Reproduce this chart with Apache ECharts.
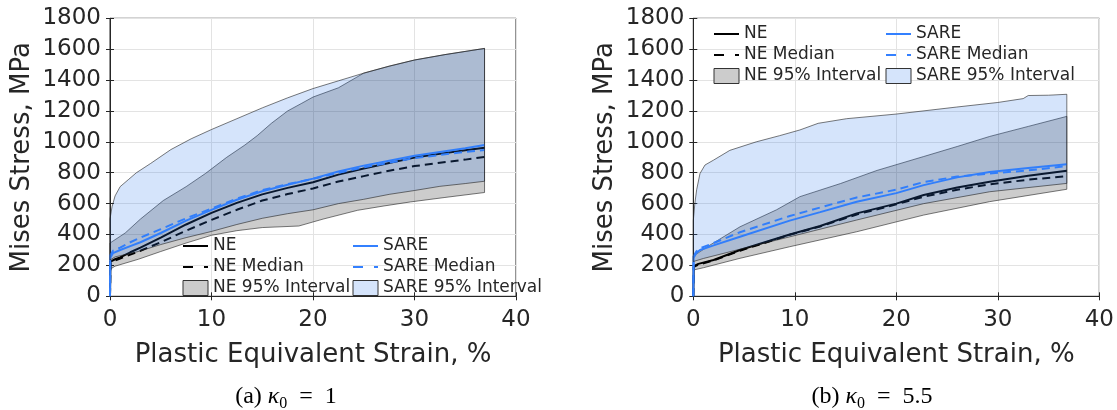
<!DOCTYPE html>
<html>
<head>
<meta charset="utf-8">
<script src="https://cdn.jsdelivr.net/npm/echarts@6/dist/echarts.min.js"></script>
<style>
html,body{margin:0;padding:0;background:#fff;}
#chart{width:1117px;height:410px;}
</style>
</head>
<body>
<div id="chart"></div>
<script>
// ---------- DATA (strain %, Mises stress MPa) ----------
const xTicks = [0, 10, 20, 30, 40];
const yTicks = [0, 200, 400, 600, 800, 1000, 1200, 1400, 1600, 1800];

// (a) kappa0 = 1
const aSareUpper = [[0,500],[0.2,580],[0.5,650],[1,710],[1.8,755],[2.6,800],[4,860],[6,950],[8,1020],[10,1080],[12.5,1150],[15,1220],[17.5,1285],[20,1345],[22.5,1395],[25,1445],[27.5,1490],[30,1530],[33,1565],[36.9,1605]];
const aSareLower = [[0,235],[0.5,255],[2.8,290],[5,335],[7.5,380],[10,420],[12.5,465],[15,505],[17.5,535],[20,560],[22.5,600],[25,628],[27.5,660],[30,685],[32.5,712],[35,730],[36.9,745]];
const aNeUpper = [[0,345],[1.5,410],[3,500],[5.25,620],[7.5,710],[9.4,795],[11.5,900],[13.3,980],[14.5,1040],[15.9,1120],[17.5,1200],[18.9,1250],[20,1290],[22.5,1350],[25,1445],[27.5,1490],[30,1530],[33,1565],[36.9,1605]];
const aNeLower = [[0,175],[0.5,195],[2.8,240],[5,290],[7.5,345],[10,395],[12.5,425],[15,445],[18.6,455],[21,500],[24.4,557],[27,585],[29.6,611],[33,640],[36.9,672]];
const aNeMean = [[0,0],[0.05,225],[0.5,240],[1,252],[2,285],[3,315],[5,380],[7.5,465],[10,540],[12.5,605],[15,660],[17.5,702],[20,738],[22.5,788],[25,828],[27.5,863],[30,898],[32.5,923],[35,946],[36.9,962]];
const aSareMean = [[0,0],[0.03,250],[0.3,280],[1,300],[2,325],[3,350],[5,410],[7.5,490],[10,560],[12.5,625],[15,680],[17.5,722],[20,762],[22.5,808],[25,846],[27.5,878],[30,910],[32.5,935],[35,958],[36.9,980]];
const aNeMedian = [[0,0],[0.05,215],[0.5,232],[1,245],[2,270],[3,295],[5,350],[7.5,425],[10,495],[12.5,560],[15,620],[17.5,662],[20,698],[22.5,743],[25,778],[27.5,813],[30,843],[32.5,865],[35,885],[36.9,902]];
const aSareMedian = [[0,0],[0.03,265],[0.3,295],[1,315],[2,350],[3,380],[5,435],[7.5,505],[10,568],[12.5,632],[15,688],[17.5,726],[20,760],[22.5,800],[25,835],[27.5,865],[30,895],[32.5,915],[35,935],[36.9,947]];

// (b) kappa0 = 5.5
const bSareUpper = [[0,490],[0.15,600],[0.33,690],[0.66,795],[1.15,850],[2,882],[3.6,945],[6.2,1000],[8.5,1040],[10.5,1077],[12.3,1120],[15.1,1150],[20,1180],[25.9,1225],[30,1255],[32.5,1280],[33,1300],[35,1302],[36.8,1308]];
const bSareLower = [[0,225],[1,245],[4.6,305],[9.5,385],[16.1,494],[22.7,600],[29.2,677],[36.8,731]];
const bNeUpper = [[0,260],[1.6,330],[4.6,450],[8.2,560],[10.5,645],[14.5,730],[18.1,815],[22.7,905],[26,970],[29.2,1035],[33,1100],[36.8,1165]];
const bNeLower = [[0,170],[1,185],[4.6,246],[9.5,321],[16.1,418],[22.7,526],[29.2,613],[36.8,693]];
const bNeMean = [[0,0],[0.05,195],[0.5,210],[2,235],[4.6,300],[9.5,400],[12.5,455],[16.1,537],[20,600],[22.7,656],[26,705],[29.2,742],[33,780],[36.8,813]];
const bSareMean = [[0,0],[0.03,250],[0.3,280],[0.66,300],[2,330],[4.6,386],[9.5,490],[12.5,545],[16.1,612],[20,668],[22.7,720],[26,770],[29.2,805],[33,830],[36.8,855]];
const bNeMedian = [[0,0],[0.05,190],[0.5,205],[2,232],[4.6,295],[9.5,398],[12.5,452],[16.1,530],[20,595],[22.7,645],[26,690],[29.2,725],[33,755],[36.8,778]];
const bSareMedian = [[0,0],[0.03,260],[0.3,290],[0.66,310],[2,345],[4.6,415],[9.5,520],[12.5,575],[16.1,640],[20,690],[22.7,740],[26,775],[29.2,795],[33,815],[36.8,843]];

const names = ['NE', 'SARE', 'NE Median', 'SARE Median', 'NE 95% Interval', 'SARE 95% Interval'];
const captions = ['(a) ', '(b) '];
const captionValues = ['1', '5.5'];

// ---------- STYLE ----------
const AX = '#262626';
const FONT = 'DejaVu Sans';
const NE_COLOR = '#000000';
const SARE_COLOR = '#3380ff';
const NE_FILL = 'rgba(0,0,0,0.2)';
const SARE_FILL = 'rgba(45,120,235,0.2)';
const NE_FILL_SOLID = '#cccccc';
const SARE_FILL_SOLID = '#d5e4fb';
const EDGE = 'rgba(30,30,30,0.85)';

const gridLefts = [110, 693.3];
const grids = gridLefts.map(l => ({left: l, top: 18.3, width: 406, height: 278, show: true, borderColor: AX, borderWidth: 1, backgroundColor: 'transparent'}));

function mainX(i) {
  return {type: 'value', gridIndex: i, min: 0, max: 40, interval: 10,
    name: 'Plastic Equivalent Strain, %', nameLocation: 'middle', nameGap: 46,
    nameTextStyle: {fontSize: 26, fontFamily: FONT, color: AX},
    axisLine: {show: true, lineStyle: {color: AX, width: 1}},
    axisTick: {show: true, inside: true, length: 4, lineStyle: {color: AX}},
    axisLabel: {fontSize: 23, fontFamily: FONT, color: AX, margin: 12,
      formatter: v => xTicks.includes(v) ? String(v) : ''},
    splitLine: {show: true, lineStyle: {color: '#e3e3e3', width: 1}}};
}
function mainY(i) {
  return {type: 'value', gridIndex: i, min: 0, max: 1800, interval: 200,
    name: 'Mises Stress, MPa', nameLocation: 'middle', nameGap: 75, nameRotate: 90,
    nameTextStyle: {fontSize: 26, fontFamily: FONT, color: AX},
    axisLine: {show: true, lineStyle: {color: AX, width: 1}},
    axisTick: {show: true, inside: true, length: 4, lineStyle: {color: AX}},
    axisLabel: {fontSize: 23, fontFamily: FONT, color: AX, margin: 9,
      formatter: v => yTicks.includes(v) ? String(v) : ''},
    splitLine: {show: true, lineStyle: {color: '#e3e3e3', width: 1}}};
}
function secX(i) {
  return {type: 'value', gridIndex: i, position: 'top', min: 0, max: 40, interval: 10,
    axisLine: {show: false}, axisLabel: {show: false}, splitLine: {show: false},
    axisTick: {show: true, inside: true, length: 4, lineStyle: {color: AX}}};
}
function secY(i) {
  return {type: 'value', gridIndex: i, position: 'right', min: 0, max: 1800, interval: 200,
    axisLine: {show: false}, axisLabel: {show: false}, splitLine: {show: false},
    axisTick: {show: true, inside: true, length: 4, lineStyle: {color: AX}}};
}

function band(name, i, lower, upper, fill, z) {
  return {
    type: 'custom', name: name, xAxisIndex: i, yAxisIndex: i, z: z, silent: true,
    data: [[0, 0]],
    itemStyle: {color: fill},
    renderItem: function (params, api) {
      const pts = upper.map(p => api.coord(p)).concat(lower.slice().reverse().map(p => api.coord(p)));
      return {type: 'polygon', shape: {points: pts},
        style: {fill: fill, stroke: EDGE, lineWidth: 0.7}};
    }
  };
}
function line(name, i, data, color, dashed) {
  return {
    type: 'line', name: name, xAxisIndex: i, yAxisIndex: i, z: 2, data: data,
    symbol: 'none', showSymbol: false, silent: true, animation: false,
    lineStyle: {color: color, width: 2, type: dashed ? [8, 5] : 'solid'},
    itemStyle: {color: color}
  };
}

const series = [
  band('NE 95% Interval', 0, aNeLower, aNeUpper, NE_FILL, 1),
  line('NE', 0, aNeMean, NE_COLOR, false),
  line('NE Median', 0, aNeMedian, NE_COLOR, true),
  line('SARE', 0, aSareMean, SARE_COLOR, false),
  line('SARE Median', 0, aSareMedian, SARE_COLOR, true),
  band('SARE 95% Interval', 0, aSareLower, aSareUpper, SARE_FILL, 3),
  band('NE 95% Interval', 1, bNeLower, bNeUpper, NE_FILL, 1),
  line('NE', 1, bNeMean, NE_COLOR, false),
  line('NE Median', 1, bNeMedian, NE_COLOR, true),
  line('SARE', 1, bSareMean, SARE_COLOR, false),
  line('SARE Median', 1, bSareMedian, SARE_COLOR, true),
  band('SARE 95% Interval', 1, bSareLower, bSareUpper, SARE_FILL, 3)
];

const hidden = {color: 'rgba(0,0,0,0)', borderWidth: 0, opacity: 0};
function legendCol(items, left, top) {
  return {
    orient: 'vertical', left: left, top: top, itemWidth: 25, itemHeight: 15, itemGap: 1,
    selectedMode: false, padding: 0,
    textStyle: {fontSize: 17, fontFamily: FONT, color: AX, lineHeight: 20},
    data: items
  };
}
const colNE = [
  {name: names[0], itemStyle: hidden, lineStyle: {color: NE_COLOR, width: 2, type: 'solid'}},
  {name: names[2], itemStyle: hidden, lineStyle: {color: NE_COLOR, width: 2, type: [10, 11]}},
  {name: names[4], icon: 'rect', itemStyle: {color: NE_FILL_SOLID, borderColor: '#333', borderWidth: 1}}
];
const colSARE = [
  {name: names[1], itemStyle: hidden, lineStyle: {color: SARE_COLOR, width: 2, type: 'solid'}},
  {name: names[3], itemStyle: hidden, lineStyle: {color: SARE_COLOR, width: 2, type: [10, 11]}},
  {name: names[5], icon: 'rect', itemStyle: {color: SARE_FILL_SOLID, borderColor: '#333', borderWidth: 1}}
];

function caption(i, x) {
  return {
    type: 'text', x: x, y: 397, silent: true,
    style: {
      text: '{n|' + captions[i] + '}{k|κ}{s|0}{n|  =  ' + captionValues[i] + '}',
      align: 'center', verticalAlign: 'middle',
      rich: {
        n: {fontSize: 24, fontFamily: 'Liberation Serif', fill: '#000', lineHeight: 30},
        k: {fontSize: 24, fontFamily: 'Liberation Serif', fontStyle: 'italic', fill: '#000', lineHeight: 30},
        s: {fontSize: 16, fontFamily: 'Liberation Serif', fill: '#000', lineHeight: 16, verticalAlign: 'bottom'}
      }
    }
  };
}

const option = {
  animation: false,
  backgroundColor: '#ffffff',
  grid: grids,
  xAxis: [mainX(0), mainX(1), secX(0), secX(1)],
  yAxis: [mainY(0), mainY(1), secY(0), secY(1)],
  legend: [
    legendCol(colNE, 182, 236),
    legendCol(colSARE, 352, 236),
    legendCol(colNE, 713, 24),
    legendCol(colSARE, 885, 24)
  ],
  series: series,
  graphic: [caption(0, 286), caption(1, 872)]
};

const chart = echarts.init(document.getElementById('chart'), null, {renderer: 'canvas'});
chart.setOption(option);
</script>
</body>
</html>
